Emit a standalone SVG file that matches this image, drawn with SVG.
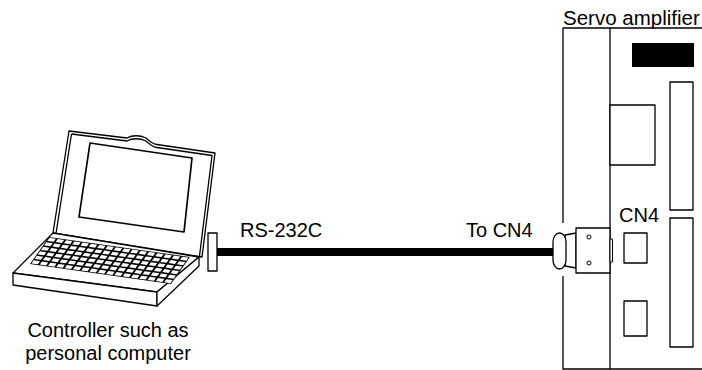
<svg xmlns="http://www.w3.org/2000/svg" width="702" height="370" viewBox="0 0 702 370">
  <style>
    .ln { fill: none; stroke: #000; stroke-width: 1.3; stroke-linejoin: round; }
    .wf { fill: #fff; stroke: #000; stroke-width: 1.3; stroke-linejoin: round; }
    .lbl { font-family: "Liberation Sans", Arial, sans-serif; font-size: 20px; fill: #000; }
  </style>
  <rect width="702" height="370" fill="#fff"/>

  <!-- Personal computer -->
  <g id="pc">
    <!-- lid, drawn as two nested outlines for its thickness -->
    <path class="wf" d="M69,131 L127,138 C132,135 140,135 146,138 C150,141 152,144 157,144.5 L215,153 L202,257 L53,233 Z"/>
    <path class="ln" d="M71.5,134 L127,141 C132,138 140,138 146,141 C150,144 152,147 157,147.5 L212,155.5 L199.5,256 M71.5,134 L56,233.5"/>
    <!-- screen -->
    <path class="ln" style="stroke-width:1.7" d="M90,143 L192,158 L184,232 L79,217 Z"/>
    <!-- keyboard base -->
    <path class="wf" d="M53,233 L199,257 L157,292 L13,273 Z"/>
    <path class="wf" d="M13,273 L157,292 L157,306 L13,285 Z"/>
    <path class="wf" d="M157,292 L199,257 L199,266 L157,306 Z"/>
    <!-- keys -->
    <g transform="matrix(8.294,1.176,-3.167,4.5,49,237)">
      <path d="M0,0 L17,0 L17,6 L0,6 Z" fill="#000"/>
      <g id="keyrow" fill="#fff">
        <rect x="0.12" y="0.16" width="0.76" height="0.68"/>
        <rect x="1.12" y="0.16" width="0.76" height="0.68"/>
        <rect x="2.12" y="0.16" width="0.76" height="0.68"/>
        <rect x="3.12" y="0.16" width="0.76" height="0.68"/>
        <rect x="4.12" y="0.16" width="0.76" height="0.68"/>
        <rect x="5.12" y="0.16" width="0.76" height="0.68"/>
        <rect x="6.12" y="0.16" width="0.76" height="0.68"/>
        <rect x="7.12" y="0.16" width="0.76" height="0.68"/>
        <rect x="8.12" y="0.16" width="0.76" height="0.68"/>
        <rect x="9.12" y="0.16" width="0.76" height="0.68"/>
        <rect x="10.12" y="0.16" width="0.76" height="0.68"/>
        <rect x="11.12" y="0.16" width="0.76" height="0.68"/>
        <rect x="12.12" y="0.16" width="0.76" height="0.68"/>
        <rect x="13.12" y="0.16" width="0.76" height="0.68"/>
        <rect x="14.12" y="0.16" width="0.76" height="0.68"/>
        <rect x="15.12" y="0.16" width="0.76" height="0.68"/>
        <rect x="16.12" y="0.16" width="0.76" height="0.68"/>
      </g>
      <use href="#keyrow" y="1"/>
      <use href="#keyrow" y="2"/>
      <use href="#keyrow" y="3"/>
      <use href="#keyrow" y="4"/>
      <use href="#keyrow" y="5"/>
    </g>
    <!-- RS-232C plug -->
    <rect class="wf" x="208" y="233" width="9" height="38"/>
    <text class="lbl" x="108" y="337" text-anchor="middle">Controller such as</text>
    <text class="lbl" x="108" y="360" text-anchor="middle">personal computer</text>
  </g>

  <!-- Servo amplifier -->
  <g id="servo">
    <path class="ln" d="M702,28 L563,28 L563,223 M563,276 L563,369 L702,369 M610,28 L610,369"/>
    <rect x="632" y="43" width="62" height="24" fill="#000"/>
    <rect class="wf" x="670" y="82" width="23" height="128"/>
    <rect class="wf" x="670" y="218" width="23" height="129"/>
    <rect class="wf" x="610" y="105" width="45" height="60"/>
    <rect class="wf" x="624" y="233" width="23" height="30"/>
    <rect class="wf" x="624" y="301" width="23" height="35"/>
    <text class="lbl" x="563" y="25" style="font-size:20.5px">Servo amplifier</text>
    <text class="lbl" x="619" y="222">CN4</text>
  </g>

  <!-- Cable between the two -->
  <g id="connectors">
    <rect x="217" y="248" width="337" height="8" fill="#000"/>
    <!-- CN4 plug -->
    <path class="wf" d="M565,235 L576,233 L576,268 L565,266 Z"/>
    <rect class="wf" x="553" y="233" width="13" height="36" rx="6.5" ry="9"/>
    <rect class="wf" x="576" y="228" width="34" height="45"/>
    <rect class="wf" x="610" y="239" width="2.5" height="23" style="stroke-width:1"/>
    <circle class="wf" cx="589" cy="237" r="2" style="stroke-width:1"/>
    <circle class="wf" cx="589" cy="263" r="2" style="stroke-width:1"/>
    <text class="lbl" x="240" y="237">RS-232C</text>
    <text class="lbl" x="466" y="237">To CN4</text>
  </g>
</svg>
